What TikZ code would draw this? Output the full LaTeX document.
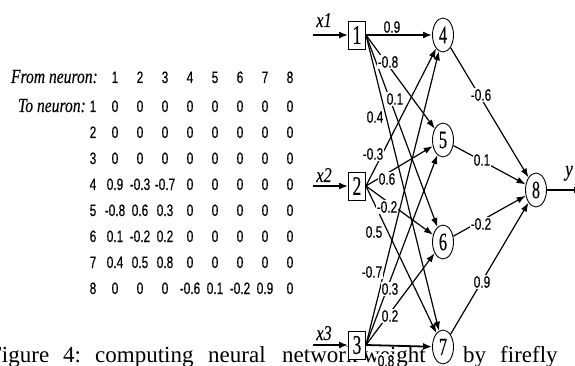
\documentclass[tikz,border=0pt]{standalone}
\usepackage{fontspec}
\setmainfont{Liberation Serif}
\newfontfamily\nar[FakeStretch=0.72,FakeBold=0.3]{Liberation Sans}
\newfontfamily\snar[FakeStretch=0.78,FakeBold=0.2]{Liberation Serif}
\newfontfamily\dnar[FakeStretch=0.65,FakeBold=0.2]{Liberation Serif}
\usetikzlibrary{shapes.geometric,arrows.meta}
\begin{document}
\begin{tikzpicture}[x=1pt,y=-1pt,
  inbox/.style={draw, line width=0.9pt, fill=white, minimum width=17pt, minimum height=28pt, inner sep=0pt, font=\dnar\fontsize{27}{27}\selectfont},
  neuron/.style={draw, ellipse, line width=0.9pt, fill=white, minimum width=21pt, minimum height=34pt, inner sep=0pt, font=\dnar\fontsize{25}{25}\selectfont},
  wire/.style={line width=1.2pt, -{Latex[length=9pt,width=6.5pt]}},
  boldwire/.style={line width=1.8pt, -{Latex[length=9pt,width=7pt]}},
  lbl/.style={font=\nar\fontsize{16.5}{16.5}\selectfont, inner sep=0.8pt, fill=white},
  mat/.style={font=\nar\fontsize{16.5}{16.5}\selectfont, inner sep=0pt, anchor=base},
  head/.style={font=\snar\itshape\fontsize{20}{20}\selectfont, inner sep=0pt, anchor=base east},
  varlbl/.style={font=\snar\itshape\fontsize{21}{21}\selectfont, inner sep=0pt, anchor=base},
  captxt/.style={font=\fontsize{23}{23}\selectfont, inner sep=0pt, anchor=base west},
]
\useasboundingbox (0,0) rectangle (575,366);
\clip (0,0) rectangle (575,366);

% caption fragment
\node[captxt] (c1) at (-11,362) {Figure};
\node[captxt] (c2) at (63,362) {4:};
\node[captxt] (c3) at (95,362) {computing};
\node[captxt] (c4) at (208,362) {neural};
\node[captxt] (c5) at (282,362) {network};
\node[captxt] (c6) at (363,362) {weight};
\node[captxt] (c7) at (463,362) {by};
\node[captxt] (c8) at (500,362) {firefly};

% weight matrix
\node[head] (from) at (98,83) {From neuron:};
\node[head] (to) at (86,112) {To neuron:};
\foreach \c in {1,...,8} \node[mat] (h\c) at ({115+25*(\c-1)},83) {\c};
\foreach \r in {1,...,8} \node[mat] (r\r) at (93,{112+26*(\r-1)}) {\r};
\foreach \r/\vals in {1/{0,0,0,0,0,0,0,0},2/{0,0,0,0,0,0,0,0},3/{0,0,0,0,0,0,0,0},
  4/{0.9,-0.3,-0.7,0,0,0,0,0},5/{-0.8,0.6,0.3,0,0,0,0,0},6/{0.1,-0.2,0.2,0,0,0,0,0},
  7/{0.4,0.5,0.8,0,0,0,0,0},8/{0,0,0,-0.6,0.1,-0.2,0.9,0}}
  \foreach \v [count=\c] in \vals
    \node[mat] (m\r-\c) at ({115+25*(\c-1)},{112+26*(\r-1)}) {\v};

% network nodes
\node[inbox] (b1) at (357,35) {1};
\node[inbox] (b2) at (357,186) {2};
\node[inbox] (b3) at (357,345) {3};
\node[neuron] (n4) at (443,35) {4};
\node[neuron] (n5) at (443,140) {5};
\node[neuron] (n6) at (443,242) {6};
\node[neuron] (n7) at (443,347) {7};
\node[neuron] (n8) at (536,190) {8};

\coordinate (i1) at (313,35);
\coordinate (i2) at (313,186);
\coordinate (i3) at (313,345);
\coordinate (out) at (583,190);

\node[varlbl] (x1) at (324,27) {x1};
\node[varlbl] (x2) at (324,182) {x2};
\node[varlbl] (x3) at (324,340) {x3};
\node[varlbl, font=\snar\itshape\fontsize{22}{22}\selectfont] (y) at (569,176) {y};

\draw[boldwire] (i1) -- (b1);
\draw[boldwire] (i2) -- (b2);
\draw[boldwire] (i3) -- (b3);
\draw[boldwire] (n8) -- (out);

\draw[boldwire] (b1.east) -- (n4);
\draw[wire] (b1.east) -- (n5);
\draw[wire] (b1.east) -- (n6);
\draw[wire] (b1.east) -- (n7);
\draw[wire] (b2.east) -- (n4);
\draw[wire] (b2.east) -- (n5);
\draw[wire] (b2.east) -- (n6);
\draw[wire] (b2.east) -- (n7);
\draw[wire] (b3.east) -- (n4);
\draw[wire] (b3.east) -- (n5);
\draw[wire] (b3.east) -- (n6);
\draw[boldwire] (b3.east) -- (n7);
\draw[wire] (n4) -- (n8);
\draw[wire] (n5) -- (n8);
\draw[wire] (n6) -- (n8);
\draw[wire] (n7) -- (n8);

% weight labels
\node[lbl] (w14) at (392,27) {0.9};
\node[lbl] (w15) at (388,62) {-0.8};
\node[lbl] (w16) at (395,99) {0.1};
\node[lbl] (w17) at (375,117) {0.4};
\node[lbl] (w24) at (373,154) {-0.3};
\node[lbl] (w25) at (387,179) {0.6};
\node[lbl] (w26) at (387,207) {-0.2};
\node[lbl] (w27) at (374,232) {0.5};
\node[lbl] (w34) at (372,272) {-0.7};
\node[lbl] (w35) at (390,289) {0.3};
\node[lbl] (w36) at (390,316) {0.2};
\node[lbl, inner sep=1.5pt] (w37) at (386,361) {0.8};
\node[lbl] (w48) at (481,95) {-0.6};
\node[lbl] (w58) at (482,160) {0.1};
\node[lbl] (w68) at (481,224) {-0.2};
\node[lbl] (w78) at (482,282) {0.9};
\end{tikzpicture}
\end{document}
